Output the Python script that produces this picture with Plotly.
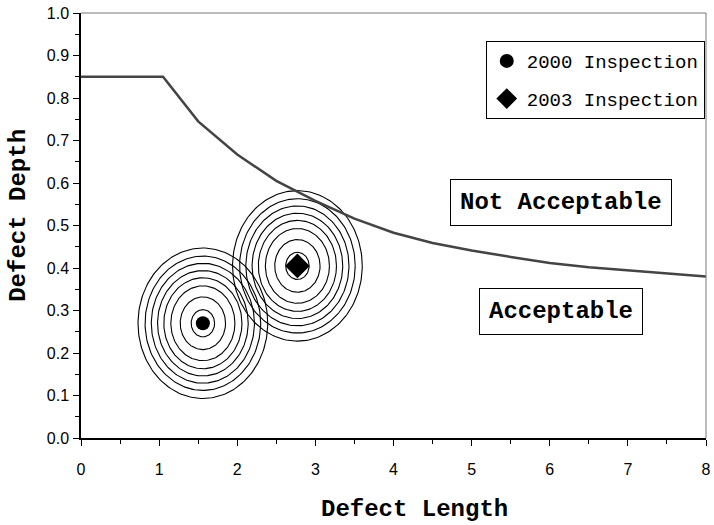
import numpy as np
import plotly.graph_objects as go

# Acceptance curve
curve_x = [0, 1.05, 1.5, 2, 2.5, 3, 3.5, 4, 4.5, 5, 5.5, 6, 6.5, 7, 7.5, 8]
curve_y = [0.85, 0.85, 0.745, 0.667, 0.605, 0.558, 0.516, 0.483, 0.459, 0.441, 0.426, 0.412, 0.402, 0.395, 0.387, 0.38]

# Inspections
insp_names = ["2000 Inspection", "2003 Inspection"]
insp_x = [1.56, 2.77]
insp_y = [0.27, 0.405]
insp_symbols = ["circle", "diamond"]
insp_sizes = [14, 19]

# Uncertainty rings (half-widths in length units, half-heights in depth units)
ring_rx = [0.15, 0.29, 0.41, 0.50, 0.58, 0.66, 0.74, 0.83]
ring_ry = [0.032, 0.062, 0.088, 0.107, 0.124, 0.141, 0.158, 0.177]

# Region labels
region_text = ["Not Acceptable", "Acceptable"]
region_x = [6.14, 6.14]
region_y = [0.553, 0.298]

MONO = "Liberation Mono, Courier New, monospace"
SANS = "Liberation Sans, Arial, sans-serif"

fig = go.Figure()

t = np.linspace(0, 2 * np.pi, 181)
for cx, cy in zip(insp_x, insp_y):
    for rx, ry in zip(ring_rx, ring_ry):
        fig.add_trace(go.Scatter(
            x=cx + rx * np.cos(t), y=cy + ry * np.sin(t),
            mode="lines", line=dict(color="black", width=1.1),
            showlegend=False, hoverinfo="skip"))

fig.add_trace(go.Scatter(
    x=curve_x, y=curve_y, mode="lines",
    line=dict(color="#444444", width=2.5), showlegend=False))

for name, x, y, s, sz in zip(insp_names, insp_x, insp_y, insp_symbols, insp_sizes):
    fig.add_trace(go.Scatter(
        x=[x], y=[y], mode="markers", name=name, legendgroup=name,
        marker=dict(symbol=s, size=sz, color="black")))

for txt, x, y in zip(region_text, region_x, region_y):
    fig.add_annotation(
        x=x, y=y, text="<b>" + txt + "</b>", showarrow=False,
        font=dict(family=MONO, size=24, color="black"),
        bordercolor="black", borderwidth=1, borderpad=9, bgcolor="white")

title_font = dict(family=MONO, size=24, color="black")
fig.add_annotation(xref="paper", yref="paper", x=0.534, y=-0.168,
                   text="<b>Defect Length</b>", showarrow=False, font=title_font,
                   xanchor="center", yanchor="middle")
fig.add_annotation(xref="paper", yref="paper", x=-0.1, y=0.524,
                   text="<b>Defect Depth</b>", showarrow=False, font=title_font,
                   textangle=-90, xanchor="center", yanchor="middle")

tick_font = dict(family=SANS, size=16, color="black")

fig.update_layout(
    width=714, height=525,
    margin=dict(l=81, r=8, t=13, b=87),
    paper_bgcolor="white", plot_bgcolor="white",
    legend=dict(
        x=0.998, y=0.934, xanchor="right", yanchor="top",
        bordercolor="black", borderwidth=1, bgcolor="white",
        font=dict(family=MONO, size=19, color="black"),
        itemsizing="trace", itemwidth=30, tracegroupgap=10),
    xaxis=dict(
        range=[0, 8], tickvals=list(range(0, 9)), ticks="outside", ticklen=6,
        tickcolor="black", tickfont=tick_font, showgrid=False, zeroline=False,
        showline=True, linecolor="black", linewidth=1.5, mirror=False,
        automargin=False, ticklabeloverflow="allow", ticklabelstandoff=10,
        minor=dict(dtick=0.5, ticks="outside", ticklen=4, tickcolor="black")),
    yaxis=dict(
        range=[0, 1.0], dtick=0.1, tickformat=".1f", ticks="outside", ticklen=6,
        tickcolor="black", tickfont=tick_font, showgrid=False, zeroline=False,
        showline=True, linecolor="black", linewidth=1.5, mirror=False,
        automargin=False, ticklabelstandoff=1,
        minor=dict(dtick=0.05, ticks="outside", ticklen=4, tickcolor="black")),
    shapes=[
        dict(type="line", xref="paper", yref="paper", x0=0, x1=1, y0=1, y1=1,
             line=dict(color="#777777", width=1)),
        dict(type="line", xref="paper", yref="paper", x0=1, x1=1, y0=0, y1=1,
             line=dict(color="#777777", width=1)),
    ],
)

fig.write_html(
    "out.html",
    config={"displayModeBar": False},
    post_script="document.body.style.margin='0';document.body.style.overflow='hidden';",
)
